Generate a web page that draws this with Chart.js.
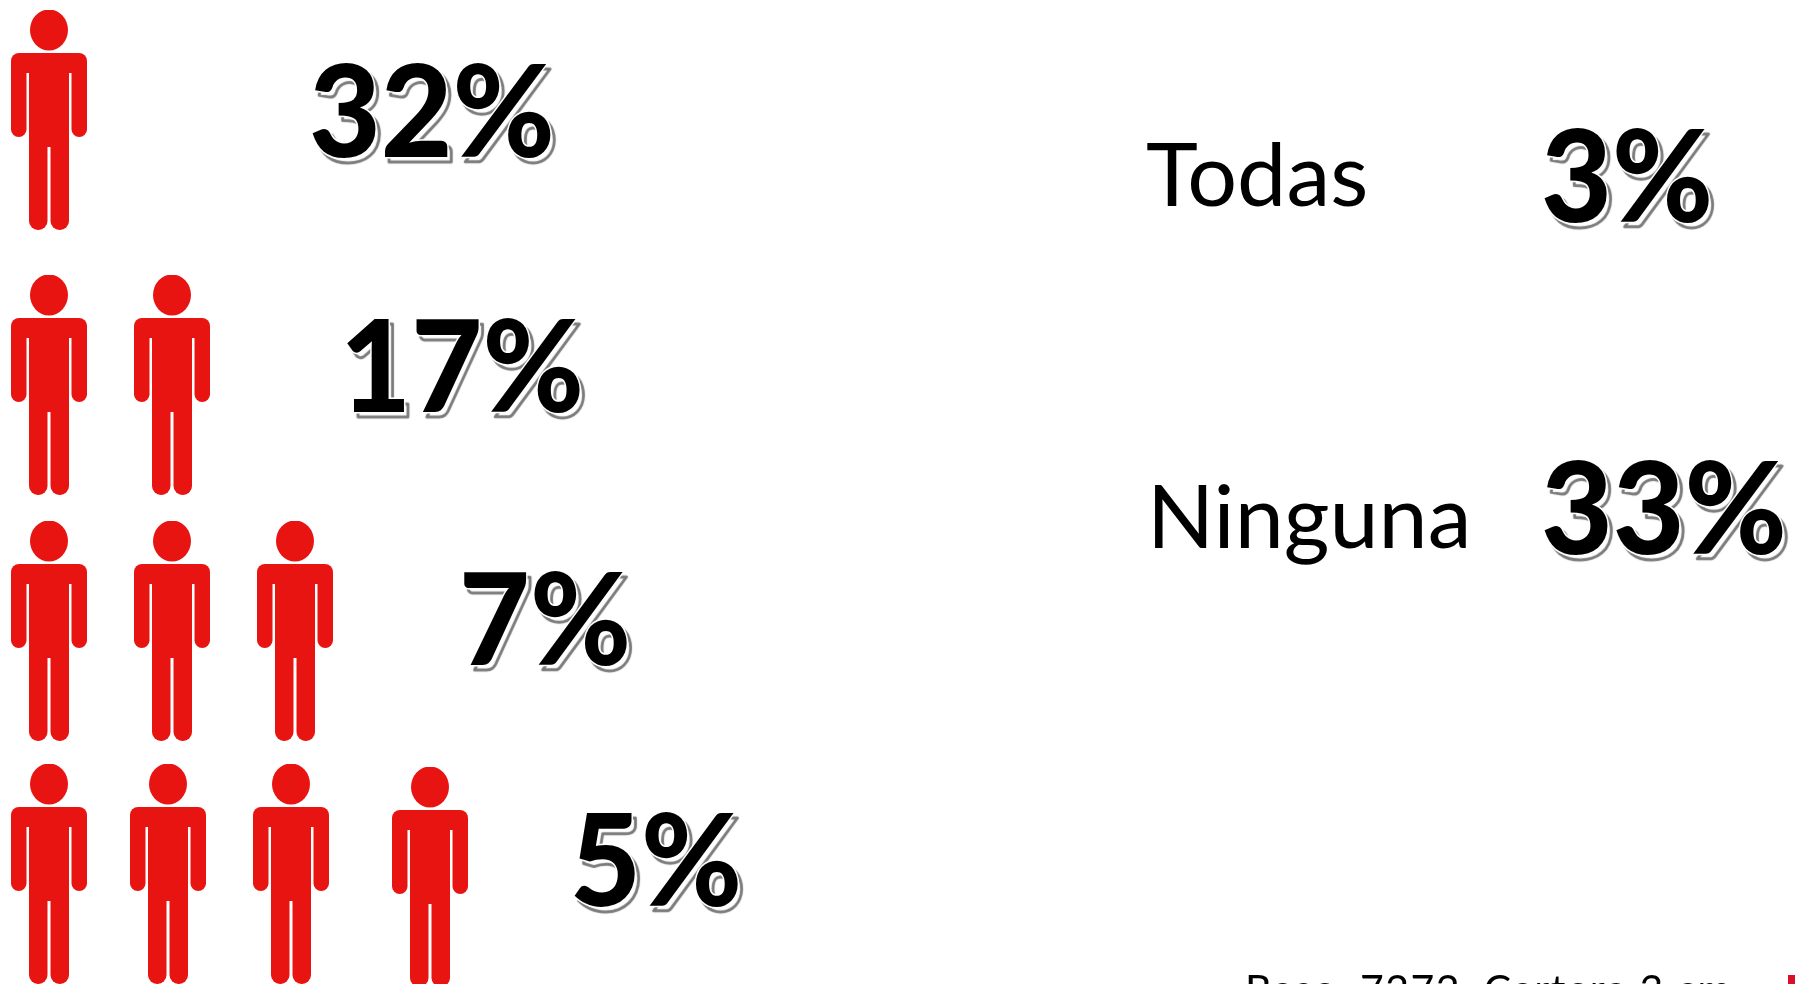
<!DOCTYPE html>
<html>
<head>
<meta charset="utf-8">
<style>
  html, body { margin: 0; padding: 0; background: #fff; overflow: hidden; }
  #wrap { position: relative; width: 1795px; height: 984px; }
</style>
<script src="https://cdn.jsdelivr.net/npm/chart.js@4"></script>
</head>
<body>
<div id="wrap"><canvas id="chart" width="1795" height="984"></canvas></div>
<script>
// Number of activities done -> share of respondents
const peopleCounts = [1, 2, 3, 4];
const shares = [32, 17, 7, 5];
const otherLabels = ["Todas", "Ninguna"];
const otherShares = [3, 33];
const baseNote = "Base: 7272. Cartera 3 cm";

// Layout of the picture, in page pixels (the hidden axes run 0-1795 and 0-984)
const iconWidth = 76, iconHeight = 220;
const red = "#e81412";
const rowCentres = [
  [120],
  [385, 385],
  [631, 631, 631],
  [874, 874, 874, 877],
];
const columnCentres = [
  [49],
  [49, 172],
  [49, 172, 295],
  [49, 168, 291, 430],
];
const shareAnchors = [[309, 157], [340, 412], [459, 665], [570, 906]];
const shareWidths = [246, 244, 172, 172];
const otherTextAnchors = [[1146, 206], [1147, 548]];
const otherShareAnchors = [[1541, 222], [1541, 554]];
const otherShareWidths = [172, 246];

// person icon, used as the scatter point image
function makePerson() {
  const c = document.createElement("canvas");
  c.width = iconWidth;
  c.height = iconHeight;
  const g = c.getContext("2d");
  g.fillStyle = red;
  g.beginPath();
  g.ellipse(38, 20, 19, 20.5, 0, 0, Math.PI * 2);
  g.fill();
  // shoulders
  g.beginPath();
  g.roundRect(0, 43, 76, 20, [8, 8, 0, 0]);
  g.fill();
  // arms
  g.beginPath();
  g.roundRect(0, 55, 15.5, 72, [0, 0, 8, 8]);
  g.fill();
  g.beginPath();
  g.roundRect(60.5, 55, 15.5, 72, [0, 0, 8, 8]);
  g.fill();
  // trunk
  g.fillRect(18, 45, 40, 92);
  // legs
  g.beginPath();
  g.roundRect(18, 130, 18.5, 90, [0, 0, 9, 9]);
  g.fill();
  g.beginPath();
  g.roundRect(39.5, 130, 18.5, 90, [0, 0, 9, 9]);
  g.fill();
  return c;
}
const person = makePerson();

const iconPoints = [];
peopleCounts.forEach((n, row) => {
  for (let i = 0; i < n; i++) {
    iconPoints.push({ x: columnCentres[row][i], y: rowCentres[row][i] });
  }
});

function drawOutlined(ctx, text, x, y, size, width) {
  ctx.save();
  ctx.font = "900 " + size + "px Lato";
  ctx.textBaseline = "alphabetic";
  ctx.lineJoin = "round";
  ctx.lineWidth = 3;
  ctx.strokeStyle = "#fff";
  ctx.shadowColor = "#7a7a7a";
  ctx.shadowOffsetX = 4;
  ctx.shadowOffsetY = 5;
  ctx.shadowBlur = 1;
  ctx.strokeText(text, x, y, width);
  ctx.shadowColor = "transparent";
  ctx.fillStyle = "#000";
  ctx.fillText(text, x, y, width);
  ctx.restore();
}

const labelsPlugin = {
  id: "pictogramLabels",
  afterDatasetsDraw(chart) {
    const ctx = chart.ctx;
    const sx = chart.scales.x, sy = chart.scales.y;
    shares.forEach((v, i) => {
      const a = shareAnchors[i];
      drawOutlined(ctx, v + "%", sx.getPixelForValue(a[0]), sy.getPixelForValue(a[1]), 127, shareWidths[i]);
    });
    otherLabels.forEach((t, i) => {
      const a = otherTextAnchors[i];
      ctx.save();
      ctx.font = "400 88px Lato";
      ctx.fillStyle = "#000";
      ctx.textBaseline = "alphabetic";
      ctx.fillText(t, sx.getPixelForValue(a[0]), sy.getPixelForValue(a[1]));
      ctx.restore();
      const b = otherShareAnchors[i];
      drawOutlined(ctx, otherShares[i] + "%", sx.getPixelForValue(b[0]), sy.getPixelForValue(b[1]), 127, otherShareWidths[i]);
    });
    ctx.save();
    ctx.font = "400 41px Lato";
    ctx.letterSpacing = "1.4px";
    ctx.fillStyle = "#000";
    ctx.fillText(baseNote, 1245, 1004);
    ctx.fillStyle = "#d8102a";
    ctx.fillRect(1788, 975, 7, 9);
    ctx.restore();
  },
};

new Chart(document.getElementById("chart"), {
  type: "scatter",
  data: {
    datasets: [
      {
        label: "Personas",
        data: iconPoints,
        pointStyle: person,
        pointRadius: 38,
        clip: false,
      },
    ],
  },
  options: {
    responsive: false,
    animation: false,
    layout: { padding: 0, autoPadding: false },
    plugins: { legend: { display: false }, tooltip: { enabled: false } },
    scales: {
      x: { type: "linear", min: 0, max: 1795, display: false },
      y: { type: "linear", min: 0, max: 984, reverse: true, display: false },
    },
  },
  plugins: [labelsPlugin],
});
</script>
</body>
</html>
